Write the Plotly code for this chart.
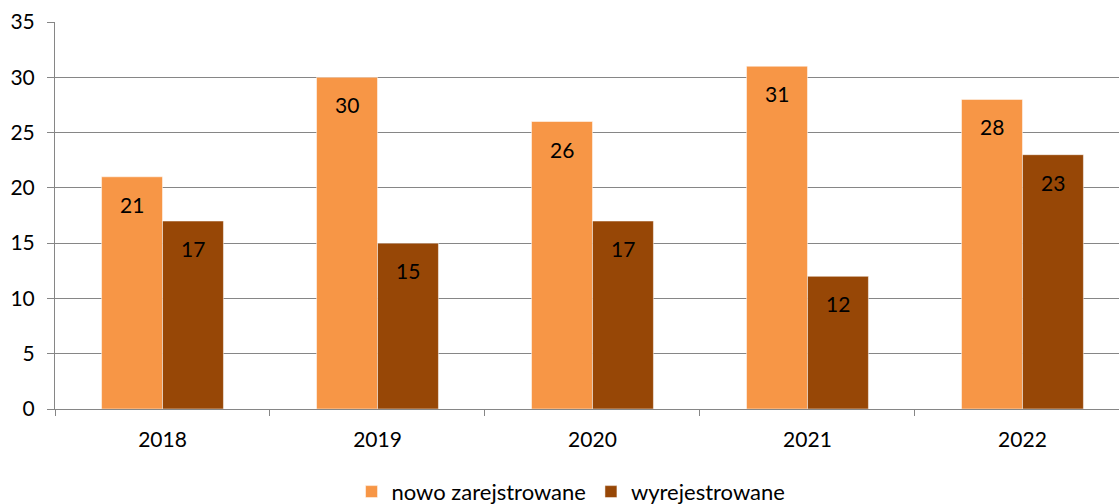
import plotly.graph_objects as go

years = ["2018", "2019", "2020", "2021", "2022"]
nowo = [21, 30, 26, 31, 28]
wyrej = [17, 15, 17, 12, 23]
series_names = ["nowo zarejstrowane", "wyrejestrowane"]
colors = ["#F79646", "#974706"]
y_ticks = [0, 5, 10, 15, 20, 25, 30, 35]

FONT = "Lato"

fig = go.Figure()
for name, vals, col in zip(series_names, [nowo, wyrej], colors):
    fig.add_trace(go.Bar(
        x=years, y=vals, name=name,
        marker=dict(color=col, line=dict(color="rgba(255,255,255,0.5)", width=1)),
    ))

annotations = []
for vals, shift in [(nowo, -30.5), (wyrej, 30.5)]:
    for i, v in enumerate(vals):
        annotations.append(dict(
            x=i, y=v, xref="x", yref="y", text=str(v), showarrow=False,
            xshift=shift, yshift=-27.5, yanchor="middle", xanchor="center",
            font=dict(family=FONT, size=21, color="#000000"),
        ))

fig.update_layout(
    width=1119, height=504,
    margin=dict(l=55, r=0, t=22, b=95, autoexpand=False),
    paper_bgcolor="white", plot_bgcolor="white",
    barmode="group", bargap=0.433, bargroupgap=0,
    font=dict(family=FONT, size=21, color="#000000"),
    showlegend=True,
    legend=dict(orientation="h", x=0.485, xanchor="center", y=-0.214, yanchor="middle",
                font=dict(family=FONT, size=22), itemwidth=30, traceorder="normal"),
    annotations=annotations,
)
fig.update_xaxes(
    type="category", range=[-0.5, 4.449],
    showline=True, linecolor="#868686", linewidth=1,
    ticks="outside", tickson="boundaries", ticklen=6, tickcolor="#868686",
    ticklabelstandoff=12,
    showgrid=False, tickfont=dict(family=FONT, size=21),
)
fig.update_yaxes(
    range=[0, 35], tickvals=y_ticks,
    showline=True, linecolor="#868686", linewidth=1,
    ticks="outside", ticklen=7, tickcolor="#868686",
    ticklabelstandoff=8,
    showgrid=True, gridcolor="#868686", gridwidth=1,
    zeroline=False, tickfont=dict(family=FONT, size=21),
)

fig.write_html("out.html", config={"displayModeBar": False},
               post_script="document.body.style.margin='0';")
